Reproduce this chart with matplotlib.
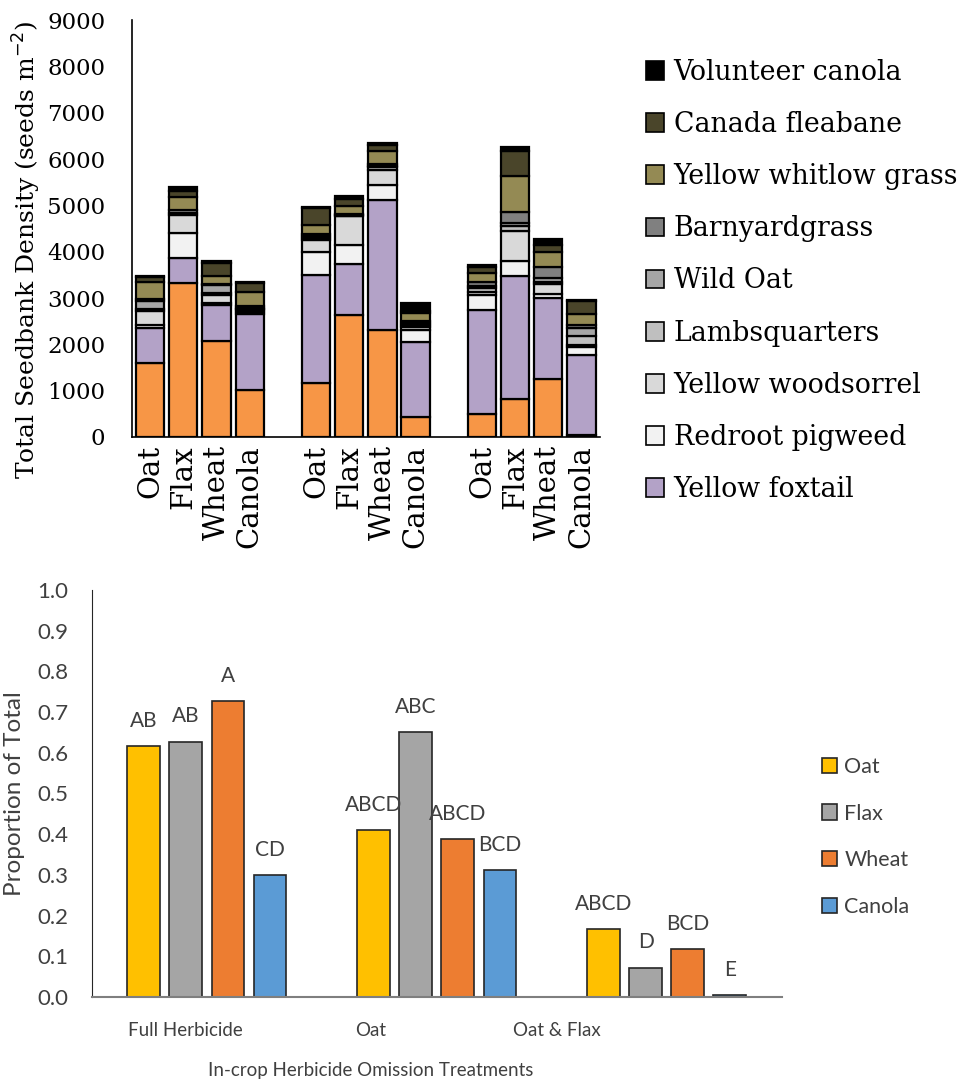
import matplotlib
matplotlib.use("Agg")
from matplotlib import pyplot as plt
from matplotlib.patches import Patch
import numpy as np

# ---- top panel: seedbank density by species (seeds m-2) ----
crops = ['Oat', 'Flax', 'Wheat', 'Canola']
bar_pos = [0, 1, 2, 3, 5, 6, 7, 8, 10, 11, 12, 13]

# bottom orange segment has no entry in the legend
orange_sp  = [1600, 3320, 2080, 1010, 1160, 2630, 2300, 440, 490, 830, 1250, 50]
foxtail    = [750, 540, 770, 1640, 2340, 1100, 2810, 1620, 2250, 2650, 1750, 1720]
redroot    = [70, 550, 50, 40, 500, 410, 320, 250, 320, 310, 90, 165]
woodsorrel = [300, 380, 160, 50, 250, 620, 330, 60, 70, 660, 220, 40]
lambsq     = [40, 50, 40, 20, 50, 20, 60, 50, 80, 100, 40, 200]
wildoat    = [180, 60, 180, 20, 40, 20, 40, 40, 50, 70, 90, 180]
barnyard   = [30, 10, 20, 50, 40, 10, 30, 50, 90, 240, 220, 60]
whitlow    = [381, 270, 170, 290, 200, 170, 280, 170, 180, 770, 330, 230]
fleabane   = [100, 130, 290, 200, 370, 160, 130, 30, 150, 540, 160, 280]
vol_canola = [30, 90, 30, 30, 20, 60, 50, 180, 30, 100, 130, 30]

species = [
	(None, orange_sp, '#F79646'),
	('Yellow foxtail', foxtail, '#B3A2C7'),
	('Redroot pigweed', redroot, '#F2F2F2'),
	('Yellow woodsorrel', woodsorrel, '#D9D9D9'),
	('Lambsquarters', lambsq, '#BFBFBF'),
	('Wild Oat', wildoat, '#A6A6A6'),
	('Barnyardgrass', barnyard, '#808080'),
	('Yellow whitlow grass', whitlow, '#948A54'),
	('Canada fleabane', fleabane, '#4A452A'),
	('Volunteer canola', vol_canola, '#000000'),
]

# ---- bottom panel: proportion of total ----
treatments = ['Full Herbicide', 'Oat', 'Oat & Flax']
prop_oat    = [0.617, 0.410, 0.166]
prop_flax   = [0.627, 0.650, 0.072]
prop_wheat  = [0.726, 0.388, 0.118]
prop_canola = [0.300, 0.312, 0.005]
let_oat    = ['AB', 'ABCD', 'ABCD']
let_flax   = ['AB', 'ABC', 'D']
let_wheat  = ['A', 'ABCD', 'BCD']
let_canola = ['CD', 'BCD', 'E']

fig = plt.figure(figsize=(9.62, 10.8), dpi=100)

serif = 'DejaVu Serif'
ax1 = fig.add_axes([0.137, 0.5954, 0.4865, 0.386])
bottom = np.zeros(len(bar_pos))
handles = []
for name, vals, col in species:
	ax1.bar(bar_pos, vals, 0.85, bottom=bottom, color=col,
			edgecolor='black', linewidth=1.6)
	bottom += np.array(vals)
	if name is not None:
		handles.append(Patch(facecolor=col, edgecolor='black', linewidth=1.2, label=name))

ax1.set_xlim(-0.55, 13.55)
ax1.set_ylim(0, 9000)
ax1.set_yticks(range(0, 9001, 1000))
ax1.set_xticks(bar_pos)
ax1.set_xticklabels(crops * 3, rotation=90, family=serif, fontsize=21)
for lab in ax1.get_yticklabels():
	lab.set_family(serif)
	lab.set_fontsize(16.5)
ax1.tick_params(axis='y', length=0, pad=19)
ax1.tick_params(axis='x', length=0, pad=6)
for s in ['top', 'right']:
	ax1.spines[s].set_visible(False)
ax1.spines['left'].set_linewidth(1.2)
ax1.spines['bottom'].set_linewidth(1.2)
ax1.set_ylabel('Total Seedbank Density (seeds m$^{-2}$)', family=serif, fontsize=18)
ax1.yaxis.set_label_coords(-0.19, 0.45)

fig.legend(handles=handles[::-1], loc='upper left', bbox_to_anchor=(0.646, 0.968),
		   frameon=False, prop={'family': serif, 'size': 19.3},
		   handlelength=0.7, handleheight=0.7, handletextpad=0.35, labelspacing=0.94)

# ---- bottom chart ----
sans = 'Lato'
txt_col = '#404040'
ax2 = fig.add_axes([0.0956, 0.0769, 0.717, 0.3769])
x = np.arange(len(treatments))
step = 0.183
width = 0.143
series = [('Oat', prop_oat, let_oat, '#FFC000'),
		  ('Flax', prop_flax, let_flax, '#A5A5A5'),
		  ('Wheat', prop_wheat, let_wheat, '#ED7D31'),
		  ('Canola', prop_canola, let_canola, '#5B9BD5')]
for i, (name, vals, lets, col) in enumerate(series):
	xs = x + (i - 1.5) * step
	ax2.bar(xs, vals, width, color=col, edgecolor='#262626', linewidth=1.2, label=name)
	for xi, v, l in zip(xs, vals, lets):
		ax2.annotate(l, (xi, v), xytext=(0, 11), textcoords='offset points',
					 ha='center', va='bottom', family=sans, fontsize=15, color=txt_col)

ax2.set_xlim(-0.5, 2.5)
ax2.set_ylim(0, 1.0)
ax2.set_yticks(np.arange(0, 1.01, 0.1))
ax2.set_yticklabels(['%.1f' % v for v in np.arange(0, 1.01, 0.1)],
					family=sans, fontsize=16, color=txt_col)
# category labels sit left of the bar groups, as in the source figure
shrink = 0.809
lab_pos = [-0.5 + 3 * shrink * (2 * i + 1) / 6 for i in range(len(treatments))]
ax2.set_xticks(lab_pos)
ax2.set_xticklabels(treatments, family=sans, fontsize=13.5, color=txt_col)
ax2.tick_params(axis='y', length=0, pad=17)
ax2.tick_params(axis='x', length=0, pad=18)
for s in ['top', 'right']:
	ax2.spines[s].set_visible(False)
ax2.spines['left'].set_color('#262626')
ax2.spines['bottom'].set_color('#7F7F7F')
ax2.spines['bottom'].set_linewidth(1.5)
ax2.set_ylabel('Proportion of Total', family=sans, fontsize=17.5, color=txt_col)
ax2.yaxis.set_label_coords(-0.097, 0.5)
ax2.set_xlabel('In-crop Herbicide Omission Treatments', family=sans, fontsize=13.5, color=txt_col)
ax2.xaxis.set_label_coords(shrink / 2, -0.16)

fig.legend(loc='center left', bbox_to_anchor=(0.834, 0.225), frameon=False,
		   prop={'family': sans, 'size': 15.5}, labelcolor=txt_col,
		   handlelength=0.7, handleheight=0.7, handletextpad=0.35, labelspacing=1.25)

fig.savefig('out.png', dpi=100)
